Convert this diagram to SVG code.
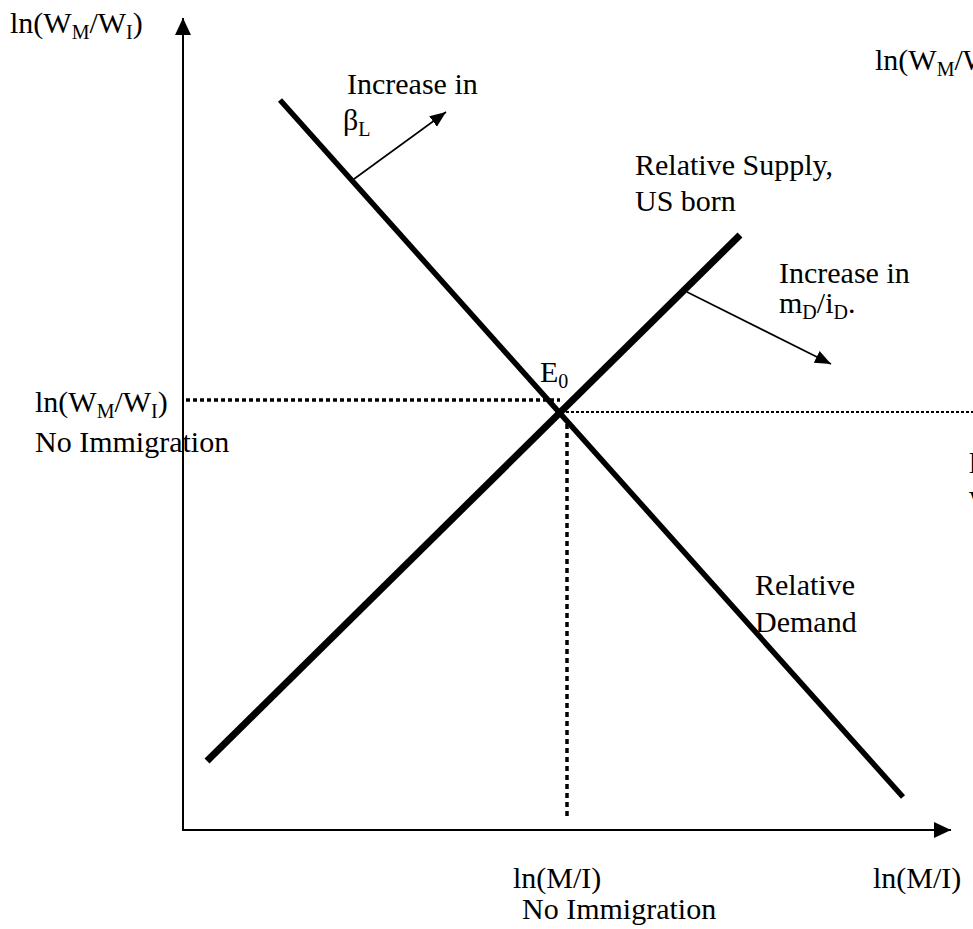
<svg xmlns="http://www.w3.org/2000/svg" width="973" height="929" viewBox="0 0 973 929">
<defs>
<style>
text{font-family:"Liberation Serif","Times New Roman",serif;font-size:30px;fill:#000}
.sub{font-size:20px}
.ax{stroke:#000;stroke-width:2;fill:none}
.thin{stroke:#000;stroke-width:1.6;fill:none}
.dot1{stroke:#000;stroke-width:3.5;stroke-dasharray:4 3;fill:none}
.dot2{stroke:#000;stroke-width:2;stroke-dasharray:3 2;fill:none}
</style>
<marker id="big" markerUnits="userSpaceOnUse" markerWidth="20" markerHeight="20" refX="17" refY="8" orient="auto"><polygon points="0,0 17,8 0,16" fill="#000"/></marker>
<marker id="sm" markerUnits="userSpaceOnUse" markerWidth="18" markerHeight="14" refX="16" refY="6.5" orient="auto"><polygon points="0,0 16,6.5 0,13" fill="#000"/></marker>
</defs>
<rect width="973" height="929" fill="#fff"/>
<g id="connectors">
<line class="ax" x1="183" y1="831" x2="183" y2="18" marker-end="url(#big)"/>
<line class="ax" x1="182" y1="830" x2="951" y2="830" marker-end="url(#big)"/>
<line x1="207" y1="761" x2="740" y2="235" stroke="#000" stroke-width="7"/>
<line x1="280" y1="100" x2="903" y2="797" stroke="#000" stroke-width="5.5"/>
<line class="dot1" x1="186" y1="400" x2="560" y2="400"/>
<line class="dot2" x1="566" y1="412" x2="973" y2="412"/>
<line class="dot1" x1="567" y1="424" x2="567" y2="816" style="stroke-dasharray:5 4"/>
<line class="thin" x1="354" y1="179" x2="446" y2="112" marker-end="url(#sm)"/>
<line class="thin" x1="687" y1="292" x2="831" y2="364" marker-end="url(#sm)"/>
</g>
<g id="y-axis-label"><text x="10" y="33">ln(W<tspan class="sub" dy="6">M</tspan><tspan dy="-6">/W</tspan><tspan class="sub" dy="6">I</tspan><tspan dy="-6">)</tspan></text></g>
<g id="y-axis-label-right"><text x="875" y="70">ln(W<tspan class="sub" dy="6">M</tspan><tspan dy="-6">/W</tspan><tspan class="sub" dy="6">I</tspan><tspan dy="-6">)</tspan></text></g>
<g id="beta-label"><text x="347" y="94">Increase in</text><text x="343" y="130">β<tspan class="sub" dy="6">L</tspan></text></g>
<g id="supply-label"><text x="635" y="175">Relative Supply,</text><text x="635" y="211">US born</text></g>
<g id="md-label"><text x="779" y="283">Increase in</text><text x="779" y="313">m<tspan class="sub" dy="6">D</tspan><tspan dy="-6">/i</tspan><tspan class="sub" dy="6">D</tspan><tspan dy="-6">.</tspan></text></g>
<g id="e0-label"><text x="540" y="382">E<tspan class="sub" dy="6">0</tspan></text></g>
<g id="wage-no-imm"><text x="35" y="412">ln(W<tspan class="sub" dy="6">M</tspan><tspan dy="-6">/W</tspan><tspan class="sub" dy="6">I</tspan><tspan dy="-6">)</tspan></text><text x="35" y="452">No Immigration</text></g>
<g id="wage-with-imm"><text x="969" y="473">ln(W<tspan class="sub" dy="6">M</tspan><tspan dy="-6">/W</tspan><tspan class="sub" dy="6">I</tspan><tspan dy="-6">)</tspan></text><text x="969" y="511">With Immigration</text></g>
<g id="demand-label"><text x="755" y="595">Relative</text><text x="755" y="632">Demand</text></g>
<g id="x-no-imm"><text x="513" y="888">ln(M/I)</text><text x="522" y="919">No Immigration</text></g>
<g id="x-axis-label"><text x="873" y="888">ln(M/I)</text></g>
</svg>
